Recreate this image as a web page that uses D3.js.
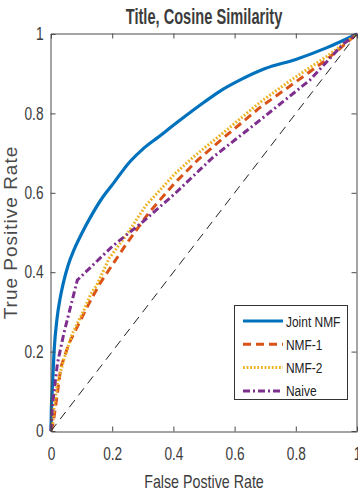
<!DOCTYPE html>
<html>
<head>
<meta charset="utf-8">
<script src="https://cdn.jsdelivr.net/npm/d3@7"></script>
<style>
  body { margin: 0; background: #fff; }
  svg { display: block; font-family: "Liberation Sans", Arial, sans-serif; }
</style>
</head>
<body>
<svg width="358" height="493"></svg>
<script>
// data
const seriesNames = ['Joint NMF', 'NMF-1', 'NMF-2', 'Naive'];

const fprJoint = [0, 0.001, 0.004, 0.01, 0.02, 0.03, 0.04, 0.055, 0.075, 0.1, 0.13, 0.17, 0.2, 0.26, 0.3, 0.35, 0.42, 0.5, 0.55, 0.62, 0.7, 0.8, 0.9, 1];
const tprJoint = [0, 0.05, 0.10, 0.20, 0.285, 0.335, 0.372, 0.415, 0.456, 0.497, 0.54, 0.59, 0.62, 0.68, 0.71, 0.74, 0.782, 0.828, 0.855, 0.885, 0.913, 0.936, 0.965, 1];

const fprNmf1 = [0, 0.005, 0.01, 0.021, 0.032, 0.059, 0.097, 0.13, 0.16, 0.2, 0.245, 0.32, 0.405, 0.48, 0.574, 0.683, 0.792, 0.9, 1];
const tprNmf1 = [0, 0.012, 0.036, 0.095, 0.16, 0.221, 0.28, 0.33, 0.372, 0.418, 0.47, 0.55, 0.625, 0.683, 0.745, 0.815, 0.875, 0.935, 1];

const fprNmf2 = [0, 0.005, 0.01, 0.021, 0.042, 0.07, 0.108, 0.13, 0.15, 0.19, 0.245, 0.31, 0.405, 0.465, 0.574, 0.683, 0.792, 0.9, 1];
const tprNmf2 = [0, 0.015, 0.06, 0.12, 0.18, 0.246, 0.305, 0.345, 0.368, 0.435, 0.492, 0.568, 0.648, 0.69, 0.758, 0.828, 0.888, 0.943, 1];

const fprNaive = [0, 0.004, 0.021, 0.042, 0.064, 0.086, 0.2, 0.3, 0.405, 0.53, 0.683, 0.846, 0.955, 1];
const tprNaive = [0, 0.06, 0.17, 0.246, 0.313, 0.38, 0.465, 0.527, 0.598, 0.69, 0.783, 0.884, 0.975, 1];

const chanceLine = [0, 1];
const tickValues = [0, 0.2, 0.4, 0.6, 0.8, 1];

// styles
const colors = ['#0072BD', '#D95319', '#EDB120', '#7E2F8E'];
const dashes = [null, '8,5', '1.8,1.8', '7,3,2,3'];
const axisColor = '#4a4a4a';
const textColor = '#3c3c3c';

const svg = d3.select('svg');
const plotLeft = 51, plotRight = 357, plotTop = 34, plotBottom = 431;

const x = d3.scaleLinear().domain([0, 1]).range([plotLeft, plotRight]);
const y = d3.scaleLinear().domain([0, 1]).range([plotBottom, plotTop]);

// squeeze text horizontally (the reference uses a narrow face)
function squeeze(sel, k) {
  sel.each(function() {
    const len = this.getComputedTextLength();
    d3.select(this).attr('textLength', len * k).attr('lengthAdjust', 'spacingAndGlyphs');
  });
}

// curves
const series = [
  d3.zip(fprJoint, tprJoint),
  d3.zip(fprNmf1, tprNmf1),
  d3.zip(fprNmf2, tprNmf2),
  d3.zip(fprNaive, tprNaive)
];

const line = d3.line().x(d => x(d[0])).y(d => y(d[1]));
const smooth = d3.line().x(d => x(d[0])).y(d => y(d[1])).curve(d3.curveMonotoneX);

const plot = svg.append('g');

series.forEach((s, i) => {
  plot.append('path')
    .datum(s)
    .attr('d', i === 0 ? smooth : line)
    .attr('fill', 'none')
    .attr('stroke', colors[i])
    .attr('stroke-width', i === 0 ? 3.2 : 3)
    .attr('stroke-dasharray', dashes[i]);
});

plot.append('path')
  .datum(d3.zip(chanceLine, chanceLine))
  .attr('d', line)
  .attr('fill', 'none')
  .attr('stroke', '#222')
  .attr('stroke-width', 1)
  .attr('stroke-dasharray', '9,6');

// axes
const fmt = d3.format('~g');

const xAxis = svg.append('g')
  .attr('transform', `translate(0,${plotBottom + 0.5})`)
  .call(d3.axisBottom(x).tickValues(tickValues).tickFormat(fmt).tickSizeInner(-5).tickSizeOuter(0).tickPadding(16));

const yAxis = svg.append('g')
  .attr('transform', `translate(${plotLeft - 0.5},0)`)
  .call(d3.axisLeft(y).tickValues(tickValues).tickFormat(fmt).tickSizeInner(-5).tickSizeOuter(0).tickPadding(7));

const xTop = svg.append('g')
  .attr('transform', `translate(0,${plotTop - 0.5})`)
  .call(d3.axisTop(x).tickValues(tickValues).tickFormat('').tickSizeInner(-5).tickSizeOuter(0));

const yRight = svg.append('g')
  .attr('transform', `translate(${plotRight - 0.5},0)`)
  .call(d3.axisRight(y).tickValues(tickValues).tickFormat('').tickSizeInner(-5).tickSizeOuter(0));

[xAxis, yAxis, xTop, yRight].forEach(g => {
  g.selectAll('path, line').attr('stroke', axisColor);
  g.selectAll('text')
    .attr('fill', textColor)
    .style('font-size', '18px')
    .style('font-family', '"Liberation Sans", Arial, sans-serif');
});
squeeze(xAxis.selectAll('text'), 0.76);
squeeze(yAxis.selectAll('text'), 0.76);

// title and axis labels
const title = svg.append('text')
  .attr('x', (plotLeft + plotRight) / 2)
  .attr('y', 24)
  .attr('text-anchor', 'middle')
  .attr('fill', textColor)
  .style('font-size', '21.5px')
  .style('font-weight', 'bold')
  .text('Title, Cosine Similarity');
squeeze(title, 0.68);

const xLabel = svg.append('text')
  .attr('x', (plotLeft + plotRight) / 2)
  .attr('y', 488)
  .attr('text-anchor', 'middle')
  .attr('fill', textColor)
  .style('font-size', '19px')
  .text('False Postive Rate');
squeeze(xLabel, 0.75);

svg.append('text')
  .attr('transform', `translate(17,${(plotTop + plotBottom) / 2}) rotate(-90)`)
  .attr('text-anchor', 'middle')
  .attr('fill', '#4a4a4a')
  .style('font-size', '19px')
  .style('letter-spacing', '1px')
  .text('True Positive Rate');

// legend
const legend = svg.append('g');
legend.append('rect')
  .attr('x', 234.5).attr('y', 305.5)
  .attr('width', 113).attr('height', 94)
  .attr('fill', '#fff')
  .attr('stroke', '#333')
  .attr('stroke-width', 1);

seriesNames.forEach((name, i) => {
  const ly = 321 + i * 23.3;
  legend.append('line')
    .attr('x1', 243).attr('x2', 283)
    .attr('y1', ly).attr('y2', ly)
    .attr('stroke', colors[i])
    .attr('stroke-width', 3)
    .attr('stroke-dasharray', dashes[i]);
  const t = legend.append('text')
    .attr('x', 286)
    .attr('y', ly + 5.5)
    .attr('fill', '#222')
    .style('font-size', '15.5px')
    .text(name);
  squeeze(t, 0.77);
});
</script>
</body>
</html>
